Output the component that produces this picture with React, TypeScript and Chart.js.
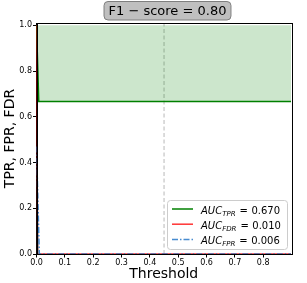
import React, { useEffect, useRef } from 'react';
import { Chart, registerables } from 'chart.js';
Chart.register(...registerables);

// ---- data ----
const tprX = [0, 0.008, 0.898];
const tprY = [1.0, 0.667, 0.667];
const fdrX = [0, 0.004, 0.898];
const fdrY = [1.0, 0.0, 0.0];
const fprX = [0, 0.01, 0.898];
const fprY = [0.47, 0.0, 0.0];
const thresholdLine = 0.45;
const legendNames = ['TPR', 'FDR', 'FPR'];
const aucValues = ['0.670', '0.010', '0.006'];
const f1Score = '0.80';
const xTicks = [0, 0.1, 0.2, 0.3, 0.4, 0.5, 0.6, 0.7, 0.8];
const yTicks = [0, 0.2, 0.4, 0.6, 0.8, 1.0];
const xMax = 0.898;
const yMax = 1.01;

const FONT = '"DejaVu Sans", sans-serif';
const GREEN = '#008000';
const RED = 'rgba(255,0,0,0.8)';
const BLUE = 'rgba(40,120,200,0.85)';
const BLUE_DASH = [6, 2, 1.5, 2];

const pts = (xs: number[], ys: number[]) => xs.map((x, i) => ({ x, y: ys[i] }));

const decorPlugin = {
  id: 'decor',
  afterDraw(chart: any) {
    const ctx = chart.ctx as CanvasRenderingContext2D;
    const a = chart.chartArea;
    ctx.save();
    // frame
    ctx.strokeStyle = '#000';
    ctx.lineWidth = 1;
    ctx.strokeRect(Math.round(a.left) + 0.5, Math.round(a.top) + 0.5, Math.round(a.right - a.left), Math.round(a.bottom - a.top));

    // title box
    const title = 'F1 \u2212 score = ' + f1Score;
    ctx.font = '13px ' + FONT;
    const tw = ctx.measureText(title).width;
    const cx = 167.5;
    const bx = cx - tw / 2 - 4.5;
    const bw = tw + 9;
    const by = 1.5, bh = 18.5;
    ctx.beginPath();
    (ctx as any).roundRect(bx, by, bw, bh, 4);
    ctx.fillStyle = '#bfbfbf';
    ctx.fill();
    ctx.strokeStyle = '#7f7f7f';
    ctx.lineWidth = 1;
    ctx.stroke();
    ctx.fillStyle = '#000';
    ctx.textAlign = 'center';
    ctx.textBaseline = 'middle';
    ctx.fillText(title, cx, by + bh / 2 + 0.5);

    // legend
    const lx = 167, ly = 200, lw = 120, lh = 49;
    ctx.beginPath();
    (ctx as any).roundRect(lx + 0.5, ly + 0.5, lw, lh, 3);
    ctx.fillStyle = 'rgba(255,255,255,0.85)';
    ctx.fill();
    ctx.strokeStyle = '#cccccc';
    ctx.stroke();
    const colors = [GREEN, RED, BLUE];
    const dashes = [[], [], BLUE_DASH];
    const rowY = [209, 224.2, 239.4];
    legendNames.forEach((name, i) => {
      const y = rowY[i];
      ctx.beginPath();
      ctx.setLineDash(dashes[i]);
      ctx.strokeStyle = colors[i];
      ctx.lineWidth = 1.5;
      ctx.moveTo(172, y);
      ctx.lineTo(193, y);
      ctx.stroke();
      ctx.setLineDash([]);
      ctx.fillStyle = '#000';
      ctx.textAlign = 'left';
      ctx.textBaseline = 'alphabetic';
      let x = 201;
      const base = y + 4.5;
      ctx.font = 'italic 10px ' + FONT;
      ctx.fillText('AUC', x, base);
      x += ctx.measureText('AUC').width;
      ctx.font = 'italic 7px ' + FONT;
      ctx.fillText(name, x, base + 2.5);
      x += ctx.measureText(name).width + 4;
      ctx.font = '10px ' + FONT;
      ctx.fillText('=', x, base);
      x += ctx.measureText('=').width + 3.5;
      ctx.fillText(aucValues[i], x, base);
    });
    ctx.restore();
  },
};

export default function App() {
  const ref = useRef<HTMLCanvasElement>(null);
  useEffect(() => {
    const chart = new Chart(ref.current!, {
      type: 'line',
      data: {
        datasets: [
          {
            label: 'threshold',
            data: [{ x: thresholdLine, y: 0 }, { x: thresholdLine, y: yMax }],
            borderColor: '#b8b8b8',
            borderWidth: 1,
            borderDash: [4, 2.5],
            pointRadius: 0,
            fill: false,
            order: 5,
          },
          {
            label: 'TPR',
            data: pts(tprX, tprY),
            borderColor: GREEN,
            backgroundColor: 'rgba(0,128,0,0.2)',
            borderWidth: 1.5,
            pointRadius: 0,
            fill: { value: 1 },
            order: 4,
          },
          {
            label: 'FDR',
            data: pts(fdrX, fdrY),
            borderColor: RED,
            borderWidth: 1.5,
            pointRadius: 0,
            fill: false,
            order: 3,
          },
          {
            label: 'FPR',
            data: pts(fprX, fprY),
            borderColor: BLUE,
            backgroundColor: 'rgba(128,128,128,0.45)',
            borderWidth: 1.5,
            borderDash: BLUE_DASH,
            pointRadius: 0,
            fill: 'origin',
            order: 2,
          },
        ],
      },
      options: {
        responsive: false,
        animation: false,
        devicePixelRatio: 1,
        layout: { padding: { top: 23, right: 16, left: 0, bottom: 0 } },
        elements: { line: { tension: 0 } },
        plugins: { legend: { display: false }, tooltip: { enabled: false } },
        scales: {
          x: {
            type: 'linear',
            min: 0,
            max: xMax,
            afterBuildTicks: (s: any) => { s.ticks = xTicks.map((v) => ({ value: v })); },
            afterFit: (s: any) => { s.height = 29; },
            ticks: {
              font: { family: FONT, size: 8 },
              color: '#000',
              padding: 1,
              maxRotation: 0,
              callback: (v: any) => Number(v).toFixed(1),
            },
            grid: { drawOnChartArea: false, drawTicks: true, tickLength: 3.5, color: '#000' },
            border: { display: true, color: '#000', width: 1 },
            title: {
              display: true,
              text: 'Threshold',
              font: { family: FONT, size: 14 },
              color: '#000',
              padding: { top: 0, bottom: 0.5 },
            },
          },
          y: {
            type: 'linear',
            min: 0,
            max: yMax,
            afterBuildTicks: (s: any) => { s.ticks = yTicks.map((v) => ({ value: v })); },
            afterFit: (s: any) => { s.width = 36.5; },
            ticks: {
              font: { family: FONT, size: 8 },
              color: '#000',
              padding: 1,
              callback: (v: any) => Number(v).toFixed(1),
            },
            grid: { drawOnChartArea: false, drawTicks: true, tickLength: 3.5, color: '#000' },
            border: { display: true, color: '#000', width: 1 },
            title: {
              display: true,
              text: 'TPR, FPR, FDR',
              font: { family: FONT, size: 14 },
              color: '#000',
              padding: { top: 1.5, bottom: 0 },
            },
          },
        },
      },
      plugins: [decorPlugin],
    } as any);
    return () => chart.destroy();
  }, []);
  return (
    <div style={{ position: 'absolute', left: 0, top: 0, width: 307, height: 283 }}>
      <canvas ref={ref} width={307} height={283} />
    </div>
  );
}
